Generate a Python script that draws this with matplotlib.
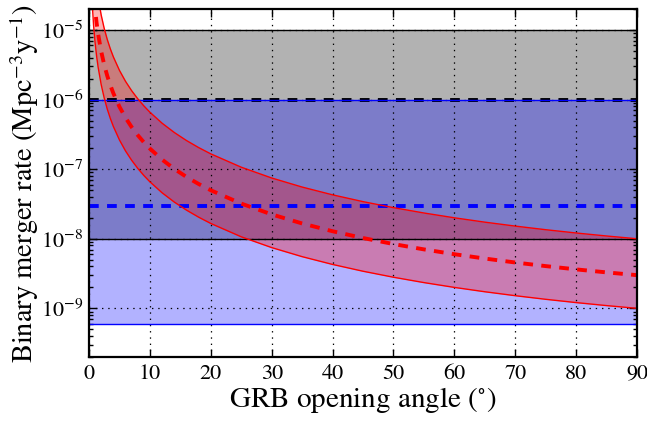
import numpy as np
import matplotlib
matplotlib.use("Agg")
import matplotlib.pyplot as plt

# ---- data ----
angles = [0.5, 0.75, 1, 1.25, 1.5, 2, 2.5, 3, 3.5, 4, 5, 6, 7, 8, 9, 10, 12, 14,
          16, 18, 20, 25, 30, 35, 40, 45, 50, 55, 60, 65, 70, 75, 80, 85, 90]
beaming_factor = [26263, 11672, 6566, 4202, 2918, 1641.6, 1050.7, 729.7, 536.1,
                  410.5, 262.8, 182.5, 134.2, 102.8, 81.22, 65.82, 45.76, 33.67,
                  25.81, 20.43, 16.58, 10.67, 7.464, 5.530, 4.274, 3.414, 2.799,
                  2.345, 2.0, 1.732, 1.520, 1.349, 1.210, 1.0955, 1.0]
iso_rate_low = 1e-9
iso_rate_mid = 3e-9
iso_rate_high = 1e-8

gray_band = (1e-8, 1e-5)
gray_best = 1e-6
blue_band = (6e-10, 1e-6)
blue_best = 3e-8

xticks = [0, 10, 20, 30, 40, 50, 60, 70, 80, 90]

plt.rcParams['font.family'] = ['STIXGeneral', 'DejaVu Serif']
plt.rcParams['mathtext.fontset'] = 'stix'
plt.rcParams['lines.scale_dashes'] = False

fig = plt.figure(figsize=(6.47, 4.22), dpi=100)
ax = fig.add_axes([89/647, 1-357/422, (637-89)/647, (357-9)/422])

x = np.array(angles)
bf = np.array(beaming_factor)
low = iso_rate_low * bf
mid = iso_rate_mid * bf
high = iso_rate_high * bf

ax.axhspan(*gray_band, color='black', alpha=0.3, lw=0)
ax.axhline(gray_band[0], color='black', lw=1)
ax.axhline(gray_band[1], color='black', lw=1)
ax.axhline(gray_best, color='black', lw=2.8, dashes=(7, 6))

ax.axhspan(*blue_band, color='blue', alpha=0.3, lw=0)
ax.axhline(blue_band[0], color='blue', lw=1)
ax.axhline(blue_band[1], color='blue', lw=1)
ax.axhline(blue_best, color='blue', lw=2.8, dashes=(7, 6))

ax.fill_between(x, low, high, color='red', alpha=0.3, lw=0)
ax.plot(x, low, color='red', lw=1)
ax.plot(x, high, color='red', lw=1)
ax.plot(x, mid, color='red', lw=2.8, dashes=(7, 6))

ax.set_yscale('log')
ax.set_xlim(0, 90)
ax.set_ylim(2e-10, 2e-5)
ax.set_xticks(xticks)
ax.grid(True, which='major', color='black', linestyle=(0, (1, 3.5)), lw=0.9)

for s in ax.spines.values():
    s.set_linewidth(1.6)
ax.tick_params(which='both', direction='in', top=True, right=True, labelsize=16)
ax.tick_params(which='major', length=6, width=1)
ax.tick_params(which='minor', length=3, width=1)
ax.tick_params(axis='x', pad=5)
ax.tick_params(axis='y', pad=4)

ax.set_xlabel(r'GRB opening angle ($^{\circ}$)', fontsize=21, labelpad=1)
ax.set_ylabel(r'Binary merger rate (Mpc$^{-3}$y$^{-1}$)', fontsize=20.5, labelpad=0)

fig.savefig('out.png', dpi=100)
